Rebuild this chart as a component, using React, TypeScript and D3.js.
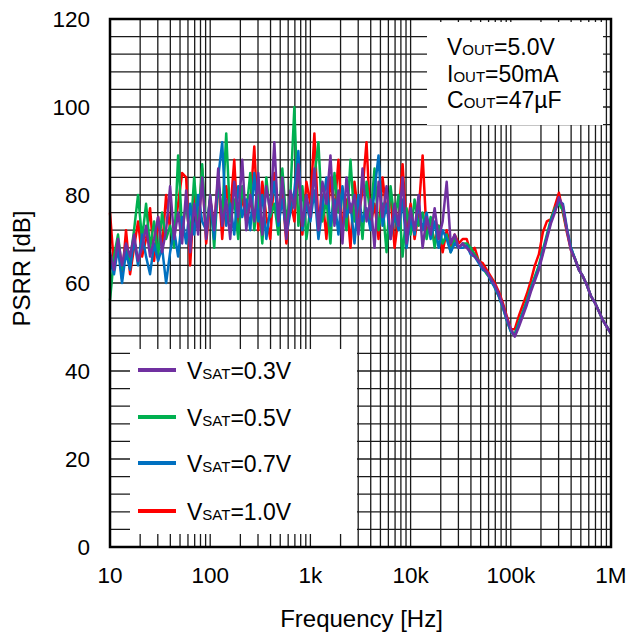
import React from "react";
import * as d3 from "d3";

// Frequency sweep: 25 points per decade (mantissas) × decades, plus 1 MHz
const FREQ_MANTISSAS = [1, 1.096, 1.202, 1.318, 1.445, 1.585, 1.738, 1.905, 2.089, 2.291, 2.512, 2.754, 3.02, 3.311, 3.631, 3.981, 4.365, 4.786, 5.248, 5.754, 6.31, 6.918, 7.586, 8.318, 9.12];
const DECADES = [10, 100, 1000, 10000, 100000];
const LAST_FREQ = 1000000;

const PSRR_03 = [
  67, 63, 70, 64, 69, 66, 71, 65, 68, 73,
  66, 70, 75, 67, 72, 82, 70, 76, 69, 81,
  67, 78, 71, 84, 70, 80, 72, 86, 73, 79,
  70, 83, 75, 88, 72, 80, 74, 85, 71, 82,
  76, 92, 74, 84, 70, 81, 77, 87, 73, 80,
  75, 86, 72, 83, 78, 89, 73, 81, 69, 84,
  76, 80, 71, 86, 74, 79, 68, 83, 75, 82,
  70, 78, 73, 84, 69, 77, 72, 80, 68, 75,
  71, 77, 70, 74, 83, 69, 71, 68, 69,
  68, 67, 66, 65, 63.5, 62.5, 61, 59.5, 57.5, 55, 52,
  49.5, 47.8, 50, 52.5, 55, 58, 60.5, 63, 66.5, 70,
  73.5, 76, 79.5, 77.5, 72, 67.5, 65.5, 63, 61.5, 59.5,
  57, 55.5, 53.5, 51.5, 50, 48.5,
];

const PSRR_05 = [
  56, 66, 71, 63, 68, 65, 72, 80, 70, 78,
  68, 74, 66, 76, 70, 73, 68, 89, 72, 78,
  70, 84, 73, 87, 71, 80, 68, 83, 75, 94,
  74, 79, 70, 82, 76, 85, 72, 80, 69, 84,
  75, 78, 71, 86, 74, 80, 100, 73, 82, 70,
  77, 84, 92, 74, 79, 69, 85, 76, 81, 72,
  88, 74, 80, 70, 83, 75, 86, 72, 78, 67,
  82, 74, 80, 66, 77, 71, 79, 73, 76, 70,
  75, 68, 73, 69, 71, 67, 70, 68, 69,
  69, 68, 66.5, 65, 63.5, 62, 61, 59, 57, 54.5, 51.5,
  49, 48.5, 51, 53.5, 56, 59, 61.5, 64, 67.5, 71,
  74.5, 77, 78, 76.5, 72, 68, 65.5, 63, 61.5, 59.5,
  57, 55.5, 53.5, 51.5, 50, 48.5,
];

const PSRR_07 = [
  65, 62, 68, 60, 67, 63, 70, 64, 71, 66,
  62, 69, 65, 68, 60, 67, 72, 66, 75, 69,
  78, 71, 80, 74, 72, 79, 70, 84, 92, 73,
  78, 71, 82, 75, 79, 72, 85, 74, 80, 70,
  77, 83, 73, 79, 71, 76, 81, 90, 72, 78,
  74, 81, 70, 77, 84, 73, 79, 71, 82, 75,
  78, 69, 80, 74, 77, 72, 81, 89, 73, 78,
  70, 76, 72, 79, 68, 75, 71, 78, 72, 76,
  70, 74, 68, 72, 70, 67, 69, 68, 68,
  68.5, 66.5, 66, 64.5, 63, 62.5, 60.5, 59, 57, 54.5, 51.5,
  49, 48, 50.5, 53, 55.5, 58.5, 61, 63.5, 67, 70.5,
  74, 76.5, 78.5, 78, 72.5, 68, 65.5, 63, 61.5, 59.5,
  57, 55.5, 53.5, 51.5, 50, 48.5,
];

const PSRR_10 = [
  76, 64, 69, 61, 72, 62, 68, 74, 66, 70,
  77, 65, 75, 68, 80, 72, 71, 78, 85, 84,
  64, 80, 72, 86, 69, 79, 73, 84, 70, 82,
  76, 88, 71, 80, 74, 78, 91, 72, 83, 75,
  70, 85, 76, 81, 69, 79, 74, 86, 71, 83,
  78, 94, 73, 80, 70, 84, 76, 88, 72, 79,
  68, 83, 75, 81, 92, 73, 78, 70, 84, 76,
  80, 68, 75, 87, 72, 78, 70, 76, 89, 71,
  74, 69, 73, 67, 72, 68, 71, 69, 70,
  70, 67, 68, 65, 64.5, 63, 61.5, 60, 58, 55.5, 52.5,
  49.5, 49.5, 52.5, 55, 57.5, 60.5, 64, 66.5, 71.5, 74,
  74.5, 77.5, 80.5, 76, 71.5, 67.5, 65.5, 63, 61.5, 59.5,
  57, 55.5, 53.5, 51.5, 50, 48.5,
];

const SERIES_LABELS = ["0.3V", "0.5V", "0.7V", "1.0V"];
const SERIES_COLORS = ["#7030A0", "#00B050", "#0070C0", "#FF0000"];
const SERIES_VALUES = [PSRR_03, PSRR_05, PSRR_07, PSRR_10];
const DRAW_ORDER = [3, 1, 2, 0];

const X_TICKS = [10, 100, 1000, 10000, 100000, 1000000];
const X_TICK_LABELS = ["10", "100", "1k", "10k", "100k", "1M"];
const Y_TICKS = [0, 20, 40, 60, 80, 100, 120];
const Y_GRID_STEP = 4;

const CONDITIONS = [
  { main: "V", sub: "OUT", rest: "=5.0V" },
  { main: "I", sub: "OUT", rest: "=50mA" },
  { main: "C", sub: "OUT", rest: "=47\u00B5F" },
];

const FONT = "'Liberation Sans', Arial, Helvetica, sans-serif";

export default function App() {
  const W = 628, H = 636;
  const L = 110, R = 611, T = 19, B = 547;
  const freqs: number[] = [];
  DECADES.forEach((d) => FREQ_MANTISSAS.forEach((m) => freqs.push(m * d)));
  freqs.push(LAST_FREQ);

  const x = d3.scaleLog().domain([10, 1e6]).range([L, R]);
  const y = d3.scaleLinear().domain([0, 120]).range([B, T]);

  const vGrid: number[] = [];
  DECADES.forEach((d) => {
    for (let k = 1; k <= 9; k++) vGrid.push(k * d);
  });
  vGrid.push(LAST_FREQ);
  const hGrid = d3.range(0, 121, Y_GRID_STEP);

  const line = d3
    .line<number>()
    .x((_, i) => x(freqs[i]))
    .y((v) => y(v));

  const legendRows = [370, 417, 463, 511];

  return (
    <div style={{ position: "absolute", left: 0, top: 0 }}>
      <svg width={W} height={H} style={{ display: "block", background: "#fff" }} fontFamily={FONT}>
        <rect x={0} y={0} width={W} height={H} fill="#fff" />
        {/* grid */}
        {vGrid.map((f, i) => (
          <line key={"v" + i} x1={x(f)} x2={x(f)} y1={T} y2={B} stroke="#1a1a1a" strokeWidth={1.3} />
        ))}
        {hGrid.map((v, i) => (
          <line key={"h" + i} x1={L} x2={R} y1={y(v)} y2={y(v)} stroke="#1a1a1a" strokeWidth={1.3} />
        ))}
        {/* annotation box */}
        <rect x={427} y={22} width={176} height={103} fill="#fff" />
        {CONDITIONS.map((c, i) => (
          <text key={"c" + i} x={447} y={55 + i * 26.7} fontSize={23} fill="#000">
            {c.main}
            <tspan fontSize={15}>{c.sub}</tspan>
            {c.rest}
          </text>
        ))}
        {/* legend box */}
        <rect x={130} y={349} width={227} height={185} fill="#fff" />
        {SERIES_LABELS.map((lab, i) => (
          <g key={"lg" + i}>
            <line x1={138} x2={176} y1={legendRows[i]} y2={legendRows[i]} stroke={SERIES_COLORS[i]} strokeWidth={4} />
            <text x={187} y={legendRows[i] + 9} fontSize={23} fill="#000">
              V<tspan fontSize={15}>SAT</tspan>={lab}
            </text>
          </g>
        ))}
        {/* data */}
        {DRAW_ORDER.map((si) => (
          <path
            key={"s" + si}
            d={line(SERIES_VALUES[si]) || ""}
            fill="none"
            stroke={SERIES_COLORS[si]}
            strokeWidth={2.5}
            strokeLinejoin="round"
          />
        ))}
        {/* border */}
        <rect x={L} y={T} width={R - L} height={B - T} fill="none" stroke="#000" strokeWidth={2.5} />
        {/* axes labels */}
        {Y_TICKS.map((v) => (
          <text key={"yt" + v} x={90} y={y(v) + 8.3} fontSize={22.5} textAnchor="end" fill="#000">
            {v}
          </text>
        ))}
        {X_TICKS.map((f, i) => (
          <text key={"xt" + i} x={x(f)} y={583} fontSize={22.5} textAnchor="middle" fill="#000">
            {X_TICK_LABELS[i]}
          </text>
        ))}
        <text x={361.5} y={627} fontSize={24} textAnchor="middle" fill="#000">
          Frequency [Hz]
        </text>
        <text transform="translate(30,268.5) rotate(-90)" fontSize={24} textAnchor="middle" fill="#000">
          PSRR [dB]
        </text>
      </svg>
    </div>
  );
}
